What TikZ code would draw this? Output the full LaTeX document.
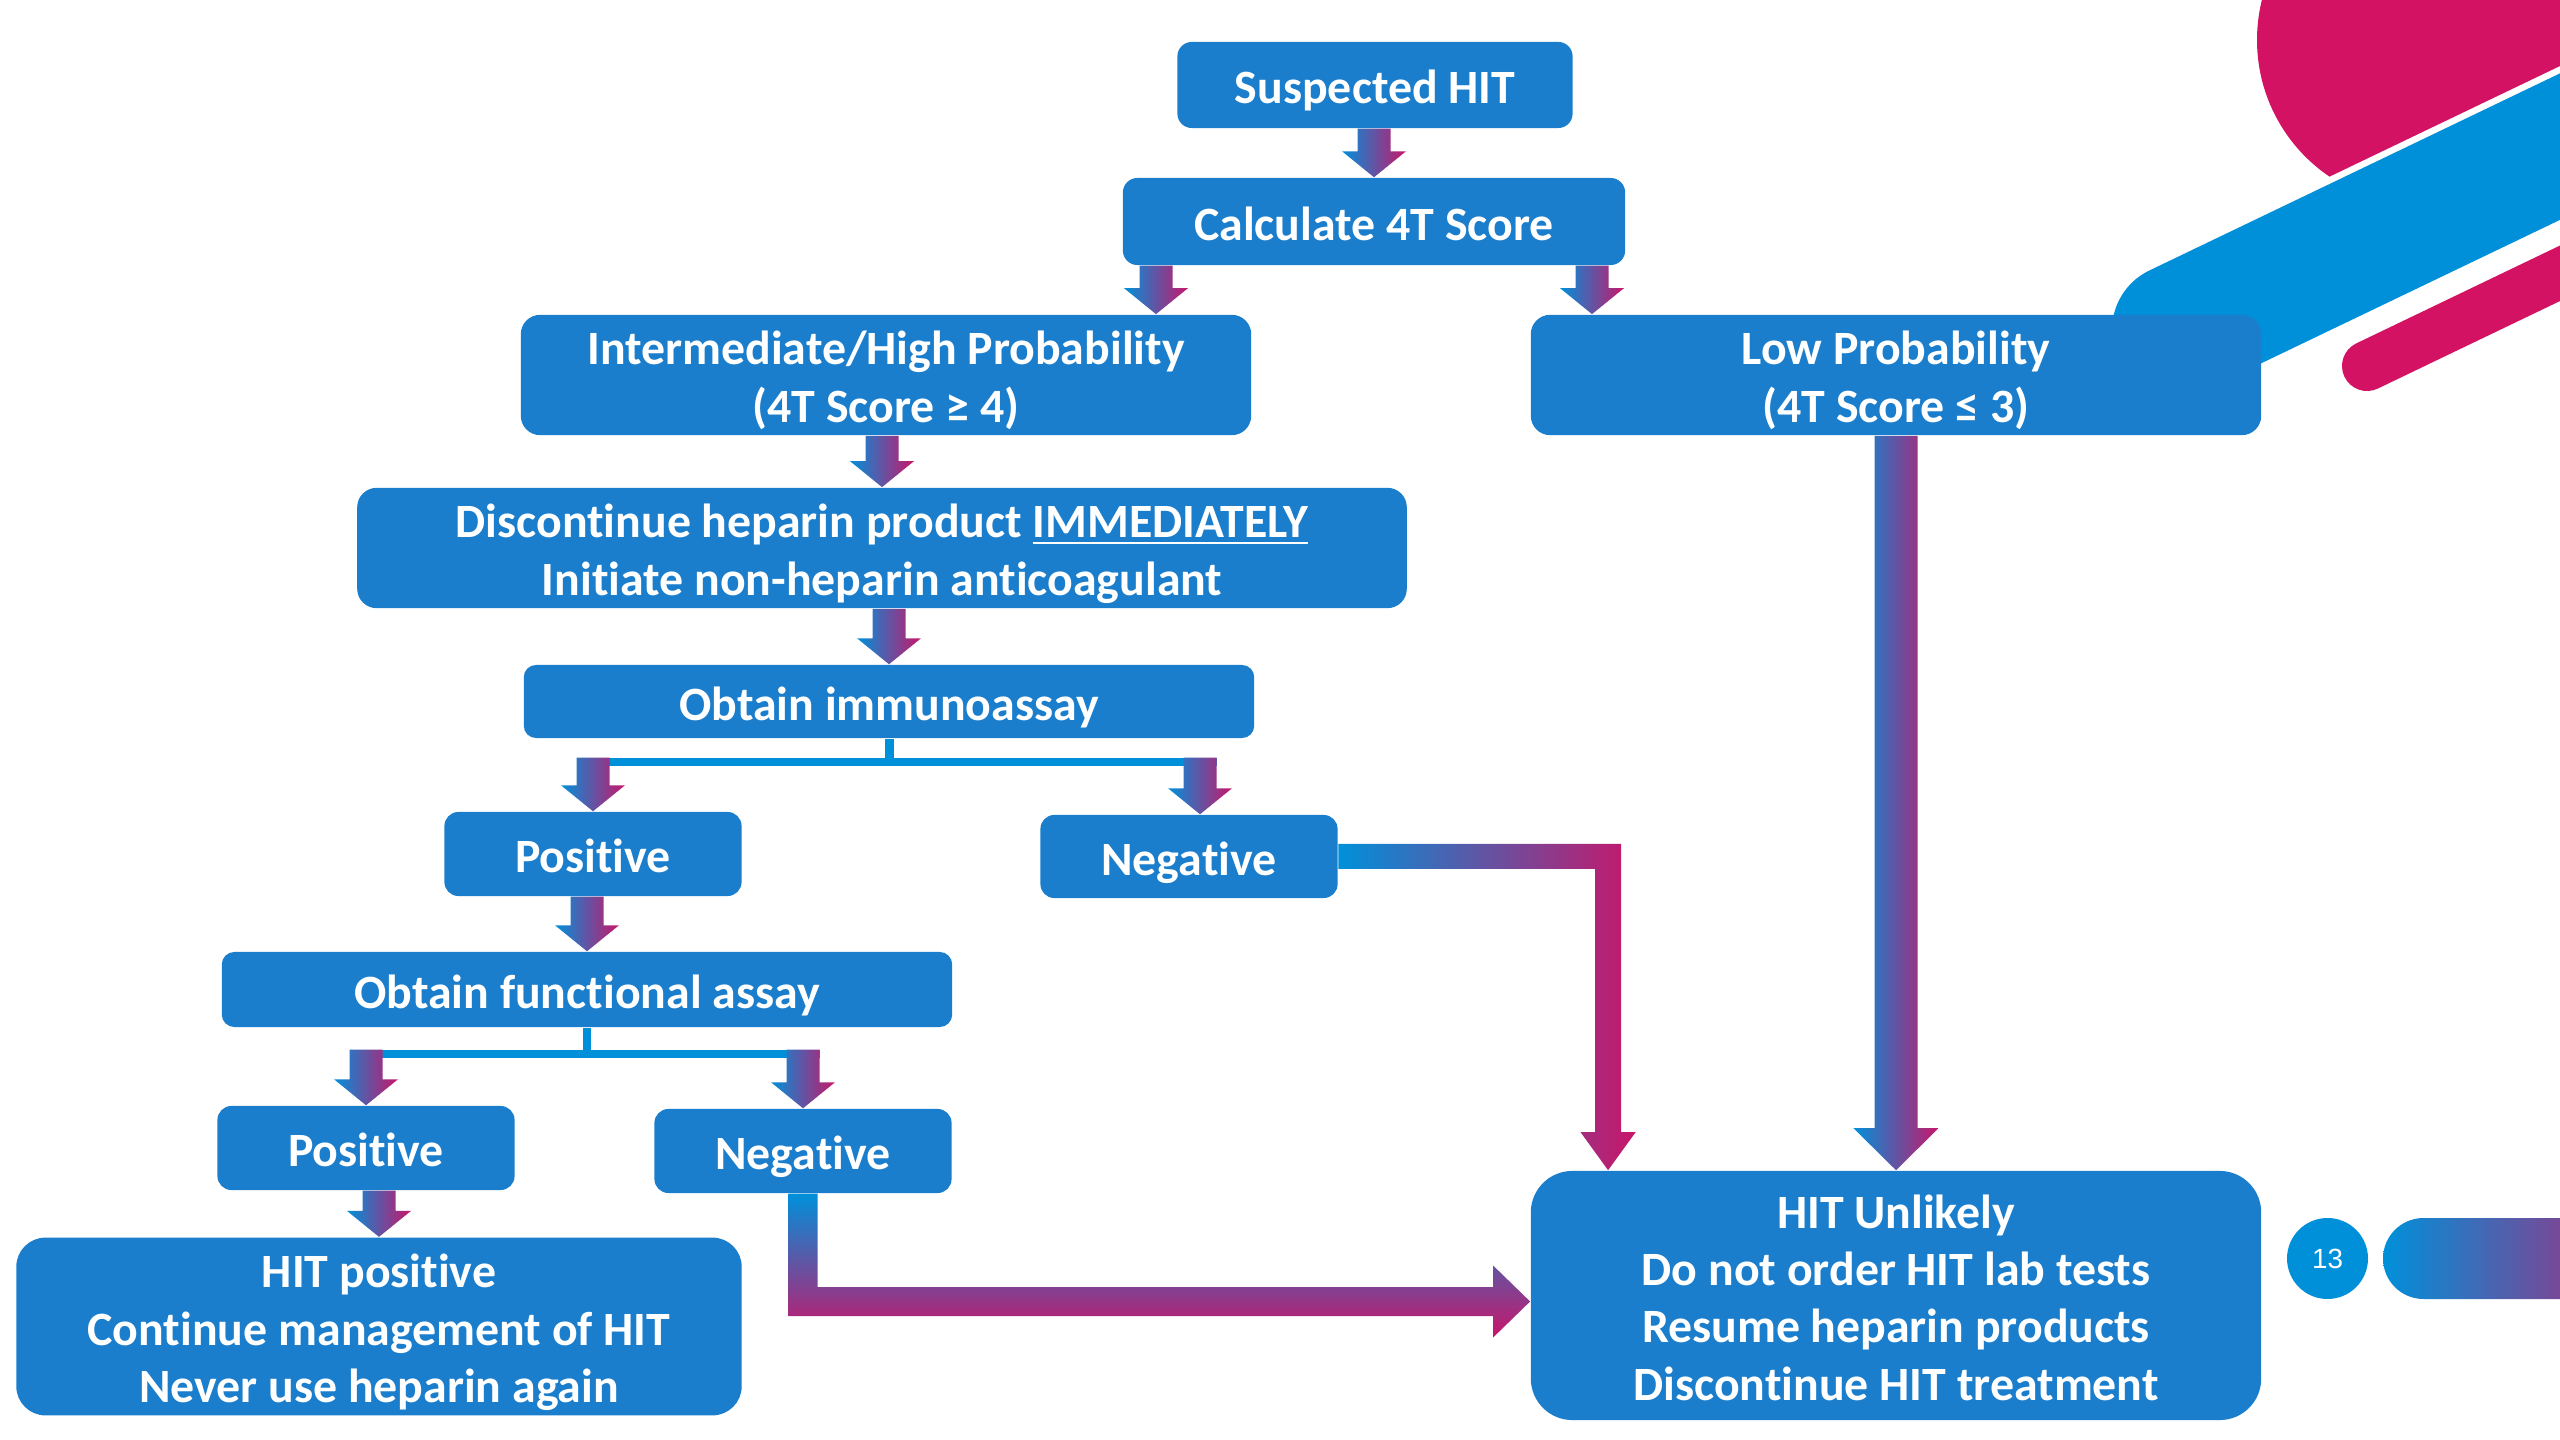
\documentclass[tikz,border=0pt]{standalone}
\usepackage{fontspec}
\setmainfont{Carlito}[Ligatures=CommonOff]
\newfontfamily\pagefont{Liberation Sans}
\usetikzlibrary{calc}

\definecolor{boxblue}{RGB}{26,126,204}
\definecolor{bandblue}{RGB}{0,144,218}
\definecolor{bandmag}{RGB}{211,18,99}
\definecolor{flowblue}{RGB}{0,144,218}
\definecolor{flowmag}{RGB}{200,22,106}

% strut for the first line of a box
\newcommand{\lineup}{\rule{0pt}{14.26pt}}

\tikzset{
  box/.style 2 args={fill=boxblue,text=white,align=center,inner sep=0pt,
    font=\fontsize{13.6}{16.35}\selectfont\bfseries,
    execute at begin node={\lineup},
    execute at end node={\rule[-3.6pt]{0pt}{0pt}},
    minimum width=#1mm,minimum height=#2mm,rounded corners=0.1667*#2mm},
  flowshade/.style={left color=flowblue,right color=flowmag},
  flowshadev/.style={top color=flowblue,bottom color=flowmag},
  bar/.style={draw=bandblue,line width=0.8mm},
}

% small block arrow, shaft starts at height of #1, tip at #2
\newcommand{\flowdown}[2]{%
  \path (#2 |- #1) coordinate (fd-s);
  \shade[flowshade] ($(fd-s)+(-16.5,0)$) -- ($(fd-s)+(16.5,0)$)
    -- ($(#2)+(16.5,-26)$) -- ($(#2)+(32,-26)$) -- (#2)
    -- ($(#2)+(-32,-26)$) -- ($(#2)+(-16.5,-26)$) -- cycle;}

\begin{document}
\begin{tikzpicture}[x=0.01cm,y=-0.01cm]
\useasboundingbox (0,0) rectangle (2560,1440);

% corner decoration
\begin{scope}
\clip (0,0) rectangle (2560,1440);
\fill[bandmag] (2422,40) circle[radius=165];
\draw[white,line width=14.5mm,line cap=round] (2178,330) -- (2800,31.4);
\draw[bandblue,line width=13.2mm,line cap=round] (2178,330) -- (2800,31.4);
\draw[bandmag,line width=5mm,line cap=round] (2367,366) -- (2800,158);
\fill[bandblue] (2327.5,1258.5) circle[radius=40.5];
\node[text=white,font=\pagefont\fontsize{7.9}{9}\selectfont] (page) at (2327.5,1258.5) {13};
\shade[left color=bandblue,right color=bandmag,rounded corners=4.05mm] (2383,1218) rectangle (2700,1299);
\end{scope}

\node[box={39.5}{8.6}] (sus) at (1375,85) {Suspected HIT};
\node[box={50.2}{8.7}] (calc) at (1374,221.5) {Calculate 4T Score};
\node[box={73}{11.6}] (int) at (886,375) {\lineup Intermediate/High Probability\\(4T Score ≥ 4)};
\node[box={73}{11.6}] (low) at (1896,375) {\lineup Low Probability\\(4T Score ≤ 3)};
\node[box={104.9}{11.6}] (disc) at (882,548) {\lineup Discontinue heparin product \underline{IMMEDIATELY}\\Initiate non-heparin anticoagulant};
\node[box={73}{7.3}] (imm) at (889,701.5) {Obtain immunoassay};
\node[box={29.7}{8.4}] (pos1) at (593,854) {Positive};
\node[box={29.7}{8.3}] (neg1) at (1189,856.5) {Negative};
\node[box={73}{7.5}] (func) at (587,989.5) {Obtain functional assay};
\node[box={29.7}{8.4}] (pos2) at (366,1148) {Positive};
\node[box={29.7}{8.4}] (neg2) at (803,1151) {Negative};
\node[box={72.5}{17.5}] (hpos) at (379,1326.5) {\lineup HIT positive\\Continue management of HIT\\Never use heparin again};
\node[box={73}{24.9}] (unl) at (1896,1295.5) {\lineup HIT Unlikely\\Do not order HIT lab tests\\Resume heparin products\\Discontinue HIT treatment};

\coordinate (ti) at ($(int.north)+(270,0)$);
\coordinate (tl) at ($(low.north)+(-304,0)$);
\coordinate (tn1) at ($(neg1.north)+(11,0)$);
\coordinate (tu1) at ($(unl.north west)+(78,0)$);
\coordinate (tu2) at ($(unl.west)+(0,6)$);

\flowdown{sus.south}{calc.north}
\flowdown{calc.south}{ti}
\flowdown{calc.south}{tl}
\flowdown{int.south}{disc.north}
\flowdown{disc.south}{imm.north}

% immunoassay split
\draw[bar,line width=0.9mm] (imm.south) -- ++(0,19) coordinate (ib);
\path (pos1.north |- ib) coordinate (ibl) (tn1 |- ib) coordinate (ibr);
\draw[bar] ($(ibl)+(-16.5,4)$) -- ($(ibr)+(16.5,4)$);
\flowdown{ibl}{pos1.north}
\flowdown{ibr}{tn1}

\flowdown{pos1.south}{func.north}

% functional assay split
\draw[bar,line width=0.8mm] (func.south) -- ++(0,22) coordinate (fb);
\path (pos2.north |- fb) coordinate (fbl) (neg2.north |- fb) coordinate (fbr);
\draw[bar] ($(fbl)+(-16.5,4)$) -- ($(fbr)+(16.5,4)$);
\flowdown{fbl}{pos2.north}
\flowdown{fbr}{neg2.north}

\flowdown{pos2.south}{hpos.north}

% long arrows to HIT unlikely
\path (low.south -| unl.north) coordinate (ls);
\shade[flowshade] ($(ls)+(-21.5,0)$) -- ($(ls)+(21.5,0)$) -- ($(unl.north)+(21.5,-42)$)
  -- ($(unl.north)+(42.5,-42)$) -- (unl.north) -- ($(unl.north)+(-42.5,-42)$)
  -- ($(unl.north)+(-21.5,-42)$) -- cycle;

\path (tu1 |- neg1.east) coordinate (n1k);
\shade[flowshade] ($(neg1.east)+(0,-12.5)$) -- ($(n1k)+(13,-12.5)$) -- ($(tu1)+(13,-38)$)
  -- ($(tu1)+(27.5,-38)$) -- (tu1) -- ($(tu1)+(-27.5,-38)$) -- ($(tu1)+(-13,-38)$)
  -- ($(n1k)+(-13,12.5)$) -- ($(neg1.east)+(0,12.5)$) -- cycle;

\path (neg2.south |- tu2) coordinate (n2k);
\shade[flowshadev] ($(neg2.south)+(-14.5,0)$) -- ($(neg2.south)+(14.5,0)$) -- ($(n2k)+(14.5,-14.5)$)
  -- ($(tu2)+(-37,-14.5)$) -- ($(tu2)+(-37,-36)$) -- (tu2) -- ($(tu2)+(-37,36)$)
  -- ($(tu2)+(-37,14.5)$) -- ($(n2k)+(-14.5,14.5)$) -- cycle;
\end{tikzpicture}
\end{document}
